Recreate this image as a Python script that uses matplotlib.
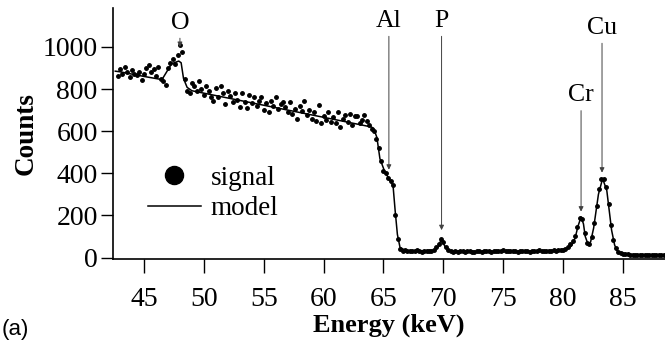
import numpy as np
import matplotlib.pyplot as plt
from matplotlib.lines import Line2D

# measured spectrum, one value every 0.2 keV starting at 42.8 keV (one row = 2 keV)
e_start = 42.8
e_step = 0.2
signal_counts = [
    860, 895, 870, 905, 880, 855, 890, 872, 865, 880,
    845, 870, 900, 912, 880, 895, 860, 905, 850, 838,
    820, 900, 925, 945, 920, 960, 1010, 975, 850, 790,
    780, 830, 815, 790, 840, 800, 770, 815, 790, 760,
    745, 805, 760, 815, 780, 730, 790, 765, 740, 780,
    750, 715, 780, 740, 710, 770, 735, 760, 720, 745,
    760, 700, 735, 690, 745, 720, 760, 705, 730, 740,
    715, 690, 740, 680, 705, 660, 720, 695, 745, 675,
    700, 660, 690, 650, 725, 640, 670, 655, 690, 645,
    665, 640, 690, 620, 660, 675, 645, 680, 630, 670,
    670, 640, 655, 675, 650, 628, 612, 600, 565, 520,
    460, 410, 400, 380, 365, 345, 200, 90, 42, 32,
    36, 30, 33, 29, 31, 34, 30, 28, 32, 30,
    31, 33, 38, 48, 65, 88, 72, 48, 34, 30,
    28, 30, 27, 31, 29, 26, 30, 32, 28, 27,
    29, 31, 28, 30, 33, 29, 27, 31, 30, 32,
    31, 34, 30, 32, 29, 33, 31, 28, 32, 30,
    29, 31, 28, 32, 30, 33, 35, 31, 33, 32,
    33, 32, 34, 33, 35, 36, 38, 42, 50, 62,
    78, 100, 145, 190, 185, 115, 70, 62, 98, 165,
    245, 325, 372, 375, 335, 255, 155, 85, 45, 28,
    22, 19, 16, 15, 14, 13, 14, 12, 12, 13,
    12, 11, 12, 10, 11, 10, 11, 12, 10,
]
signal_energy = e_start + e_step * np.arange(len(signal_counts))

# fitted model
model_energy = [42.6, 43.0, 45.0, 46.5, 47.3, 47.9, 48.1, 48.3, 48.6, 49.0,
                64.0, 64.2, 64.45, 64.7, 65.1, 65.55, 65.8, 65.97, 66.16, 66.38,
                66.9, 69.2, 69.55, 69.85, 70.15, 70.5, 72.0, 78.0, 79.0, 80.3,
                80.7, 81.0, 81.25, 81.5, 81.7, 81.85, 82.1, 82.3, 82.55, 82.95,
                83.3, 83.65, 84.05, 84.3, 84.5, 85.0, 86.0, 88.5]
model_counts = [885, 882, 860, 845, 920, 933, 925, 850, 808, 792,
                620, 610, 570, 470, 408, 366, 340, 225, 110, 48,
                32, 33, 50, 88, 50, 32, 29, 31, 33, 40,
                55, 92, 150, 192, 160, 100, 60, 75, 140, 300,
                375, 318, 130, 60, 32, 18, 13, 10]

# element lines: label, energy, text baseline, arrow tip
peak_names = ['O', 'Al', 'P', 'Cr', 'Cu']
peak_energy = [48.0, 65.45, 69.85, 81.5, 83.25]
label_y = [1085, 1094, 1094, 741, 1061]
tip_y = [1000, 417, 130, 218, 403]

serif = 'Liberation Serif'
plt.rcParams['font.family'] = serif

fig = plt.figure(figsize=(6.65, 3.42), dpi=100)
ax = fig.add_axes([113 / 665, 1 - 259 / 342, 1 - 113 / 665, 251 / 342])

ax.plot(model_energy, model_counts, color='black', lw=1.1, zorder=2)
ax.plot(signal_energy, signal_counts, ls='', marker='o', ms=2.5,
        color='black', zorder=3)

for name, e, ly, ty in zip(peak_names, peak_energy, label_y, tip_y):
    ax.annotate(name, xy=(e, ty), xytext=(e, ly), ha='center', va='baseline',
                fontsize=18.5,
                arrowprops=dict(arrowstyle='-|>', lw=0.7, color='0.25',
                                mutation_scale=7, shrinkA=1, shrinkB=0))

ax.set_xlim(42.41, 88.51)
ax.set_ylim(-7, 1185)
ax.set_xticks([45, 50, 55, 60, 65, 70, 75, 80, 85])
ax.set_yticks([0, 200, 400, 600, 800, 1000])
for s in ['top', 'right']:
    ax.spines[s].set_visible(False)
for s in ['left', 'bottom']:
    ax.spines[s].set_linewidth(1.2)
ax.tick_params(axis='y', direction='out', length=9, width=1, labelsize=20, pad=2)
ax.tick_params(axis='x', direction='out', length=10, width=1, labelsize=20, pad=10)

ax.set_xlabel('Energy (keV)', fontsize=19, fontweight='bold', labelpad=1.5)
ax.set_ylabel('Counts', fontsize=19.5, fontweight='bold')
ax.yaxis.set_label_coords(-0.135, 0.5)

handles = [Line2D([], [], ls='', marker='o', ms=13, color='black'),
           Line2D([], [], color='black', lw=1.1)]
ax.legend(handles, ['signal', 'model'], loc='upper left',
          bbox_to_anchor=(137 / 665, 1 - 155 / 342),
          bbox_transform=fig.transFigure, frameon=False, fontsize=19.5,
          handlelength=1.95, handletextpad=0.38, labelspacing=0.2,
          borderaxespad=0)

fig.text(0.003, 1 - 335 / 342, '(a)', family='Liberation Sans', fontsize=16,
         va='baseline')

fig.savefig('out.png', dpi=100)
